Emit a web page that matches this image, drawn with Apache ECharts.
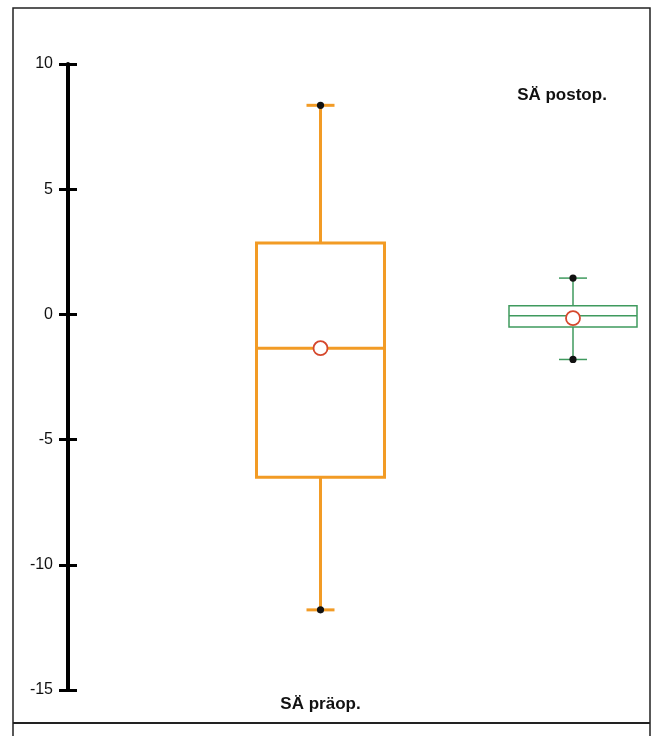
<!DOCTYPE html>
<html>
<head>
<meta charset="utf-8">
<script src="https://cdn.jsdelivr.net/npm/echarts@6/dist/echarts.min.js"></script>
<style>
html,body{margin:0;padding:0;background:#fff;}
#chart{width:655px;height:736px;}
</style>
</head>
<body>
<div id="chart"></div>
<script>
// ---- data ----
const categories = ['', 'SÄ präop.', 'SÄ postop.'];
const groupNames = ['SÄ präop.', 'SÄ postop.'];
const whiskerLow = [-11.8, -1.8];
const q1 = [-6.5, -0.5];
const median = [-1.35, -0.05];
const q3 = [2.85, 0.35];
const whiskerHigh = [8.35, 1.45];
const meanVal = [-1.35, -0.15];
const yTicks = [-15, -10, -5, 0, 5, 10];

// ---- styles ----
const boxColors = ['#F29B25', '#3F9A5E'];
const boxLineWidths = [3, 1.5];
const meanColor = '#D5472C';
const FONT = '"Liberation Sans", Arial, sans-serif';

const seriesData = groupNames.map((name, i) => [
  categories.indexOf(name), whiskerLow[i], q1[i], median[i], q3[i], whiskerHigh[i], meanVal[i]
]);

function renderItem(params, api) {
  const i = params.dataIndex;
  const xi = api.value(0);
  const cx = api.coord([xi, 0])[0];
  const y = k => api.coord([xi, api.value(k)])[1];
  const yMin = y(1), yQ1 = y(2), yMed = y(3), yQ3 = y(4), yMax = y(5), yMean = y(6);
  const color = boxColors[i];
  const lw = boxLineWidths[i];
  const halfBox = 64, halfCap = 14;
  const ls = {stroke: color, lineWidth: lw, fill: null};
  return {
    type: 'group',
    children: [
      {type: 'line', shape: {x1: cx, y1: yMax, x2: cx, y2: yQ3}, style: ls},
      {type: 'line', shape: {x1: cx, y1: yQ1, x2: cx, y2: yMin}, style: ls},
      {type: 'line', shape: {x1: cx - halfCap, y1: yMax, x2: cx + halfCap, y2: yMax}, style: ls},
      {type: 'line', shape: {x1: cx - halfCap, y1: yMin, x2: cx + halfCap, y2: yMin}, style: ls},
      {type: 'rect', shape: {x: cx - halfBox, y: yQ3, width: 2 * halfBox, height: yQ1 - yQ3}, style: {stroke: color, lineWidth: lw, fill: '#fff'}},
      {type: 'line', shape: {x1: cx - halfBox, y1: yMed, x2: cx + halfBox, y2: yMed}, style: ls},
      {type: 'circle', shape: {cx: cx, cy: yMax, r: 3.6}, style: {fill: '#111'}},
      {type: 'circle', shape: {cx: cx, cy: yMin, r: 3.6}, style: {fill: '#111'}},
      {type: 'circle', shape: {cx: cx, cy: yMean, r: 7}, style: {fill: '#fff', stroke: meanColor, lineWidth: 1.8}}
    ]
  };
}

const chart = echarts.init(document.getElementById('chart'));
chart.setOption({
  animation: false,
  backgroundColor: '#fff',
  grid: {left: 68, right: 82, top: 64, bottom: 46},
  xAxis: [
    {
      type: 'category', data: categories, boundaryGap: false, position: 'bottom',
      axisLine: {show: false}, axisTick: {show: false}, splitLine: {show: false},
      axisLabel: {
        interval: (idx, val) => val === groupNames[0],
        margin: 6, fontSize: 17, fontWeight: 'bold', color: '#111', fontFamily: FONT
      }
    },
    {
      type: 'category', data: categories, boundaryGap: false, position: 'top',
      axisLine: {show: false}, axisTick: {show: false}, splitLine: {show: false},
      axisLabel: {
        interval: (idx, val) => val === groupNames[1],
        margin: -40, padding: [0, 22, 0, 0], fontSize: 17, fontWeight: 'bold', color: '#111', fontFamily: FONT
      }
    }
  ],
  yAxis: [
    {
      type: 'value', min: yTicks[0], max: yTicks[yTicks.length - 1], interval: 5, position: 'left',
      axisLine: {show: true, lineStyle: {color: '#000', width: 4}},
      axisTick: {show: true, length: 9, lineStyle: {color: '#000', width: 3}},
      splitLine: {show: false},
      axisLabel: {margin: 15, fontSize: 16, color: '#111', fontFamily: FONT}
    },
    {
      type: 'value', min: yTicks[0], max: yTicks[yTicks.length - 1], interval: 5, position: 'left', offset: 0,
      axisLine: {show: false},
      axisTick: {show: true, inside: true, length: 9, lineStyle: {color: '#000', width: 3}},
      splitLine: {show: false},
      axisLabel: {show: false}
    }
  ],
  series: [{
    type: 'custom',
    renderItem: renderItem,
    data: seriesData,
    encode: {x: 0, y: [1, 2, 3, 4, 5, 6]},
    xAxisIndex: 0, yAxisIndex: 0,
    clip: false
  }],
  graphic: [
    {type: 'rect', shape: {x: 13, y: 8, width: 637, height: 760}, style: {fill: null, stroke: '#222', lineWidth: 1.5}, silent: true},
    {type: 'line', shape: {x1: 13, y1: 723, x2: 650, y2: 723}, style: {stroke: '#222', lineWidth: 2}, silent: true}
  ]
});
</script>
</body>
</html>
